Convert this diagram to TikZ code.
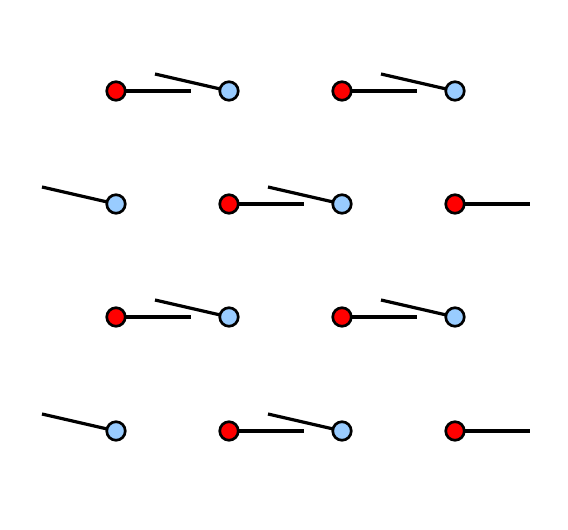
\documentclass[tikz,border=0pt]{standalone}
\definecolor{lblue}{HTML}{99CCFF}
\begin{document}
\begin{tikzpicture}[x=1pt,y=1pt,
  ball/.style={circle,draw=black,line width=2.7pt,minimum size=18.5pt,inner sep=0pt},
  redball/.style={ball,fill=red},
  blueball/.style={ball,fill=lblue},
  stick/.style={line width=3.2pt,draw=black}]
\useasboundingbox (0,0) rectangle (568,530);
% red balls: stick to the right
\foreach \n/\x/\y in {a/116/91, b/342/91, c/229/204, d/455/204, e/116/317, f/342/317, g/229/431, h/455/431} {
  \coordinate (r\n) at (\x,530-\y);
  \coordinate (r\n e) at (\x+75,530-\y);
  \draw[stick] (r\n) -- (r\n e);
  \node[redball] (R\n) at (r\n) {};
}
% blue balls: stick up-left
\foreach \n/\x/\y in {a/229/91, b/455/91, c/116/204, d/342/204, e/229/317, f/455/317, g/116/431, h/342/431} {
  \coordinate (b\n) at (\x,530-\y);
  \coordinate (b\n e) at (\x-74,530-\y+17);
  \draw[stick] (b\n) -- (b\n e);
  \node[blueball] (B\n) at (b\n) {};
}
\end{tikzpicture}
\end{document}
